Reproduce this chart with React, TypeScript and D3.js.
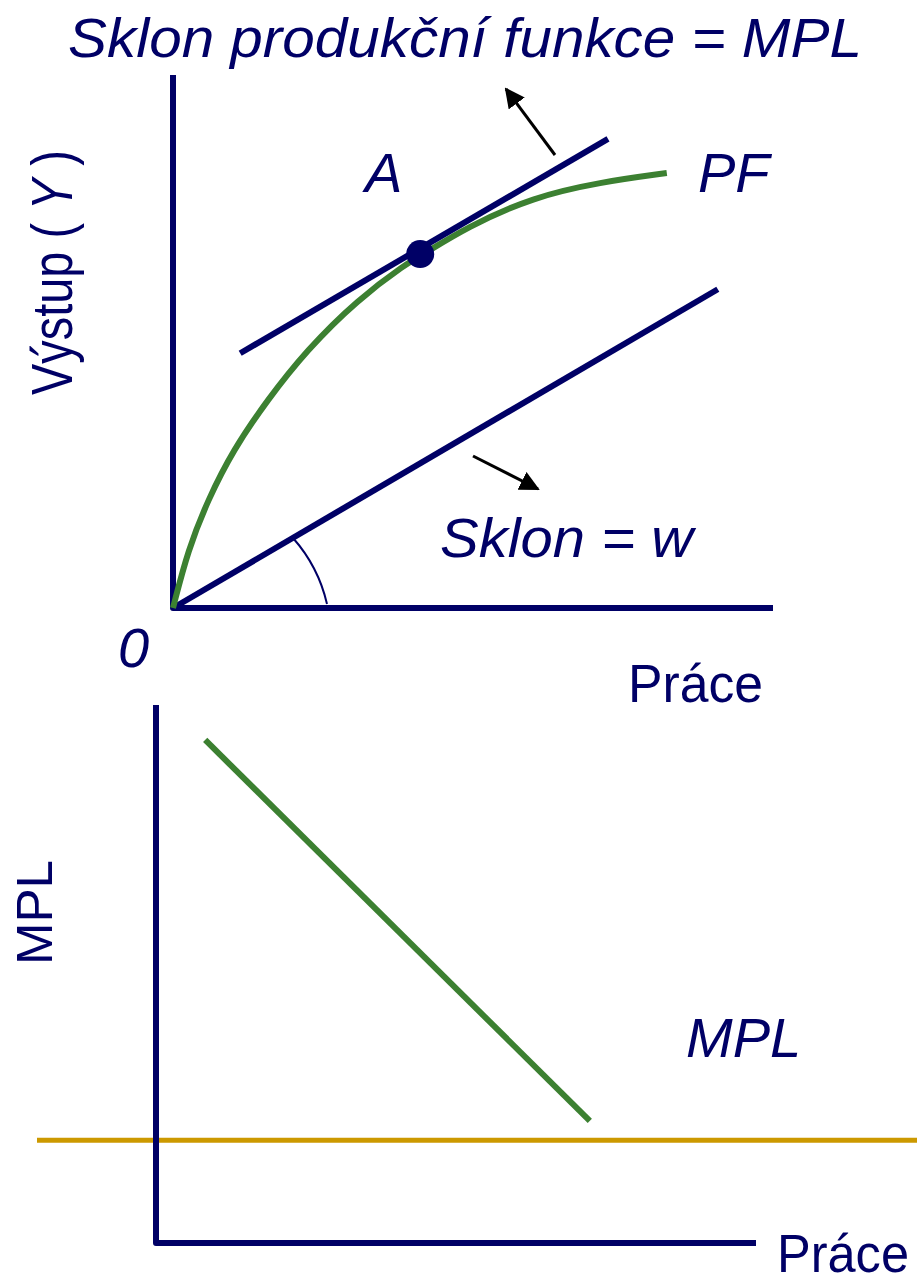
import React from "react";
import * as d3 from "d3";

// ---- data (abstract units: labour 0..100, output 0..100) ----
const pfLabour = [0, 2.5, 5.83, 10, 15.7, 22.3, 30.7, 39, 41.2, 49, 60, 71.2, 82.3];
const pfOutput = [0, 10.9, 20.3, 29.6, 39.0, 48.4, 57.8, 64.7, 66.0, 71.5, 77.1, 79.9, 81.6];
const tangentLabour = [11.2, 72.5];
const tangentOutput = [47.8, 88.0];
const wageLabour = [0, 90.8];
const wageOutput = [0, 59.8];
const pointA = [41.2, 66.4];
const mplLabour = [8.2, 72.3];
const mplValue = [93.5, 22.7];
const wageLevel = 19.1;

const NAVY = "#000066";
const GREEN = "#3C8031";
const ORANGE = "#CC9900";
const FONT = "'Liberation Sans', Arial, sans-serif";

export default function App() {
  // top chart scales
  const x = d3.scaleLinear().domain([0, 100]).range([173, 773]);
  const y = d3.scaleLinear().domain([0, 100]).range([608, 75]);
  // bottom chart scales
  const x2 = d3.scaleLinear().domain([0, 100]).range([156, 756]);
  const y2 = d3.scaleLinear().domain([0, 100]).range([1243, 705]);

  const pfData = pfLabour.map((l, i) => [l, pfOutput[i]] as [number, number]);
  const line = d3
    .line<[number, number]>()
    .x((d) => x(d[0]))
    .y((d) => y(d[1]))
    .curve(d3.curveBasis);
  const straight = d3.line<[number, number]>().x((d) => x(d[0])).y((d) => y(d[1]));
  const straight2 = d3.line<[number, number]>().x((d) => x2(d[0])).y((d) => y2(d[1]));

  // angle arc near origin
  const arcStart: [number, number] = [293, 538];
  const arcEnd: [number, number] = [327, 604];

  return (
    <svg width={917} height={1284} style={{ display: "block", position: "absolute", left: 0, top: 0 }}>
      <defs>
        <marker id="ah2" viewBox="0 0 10 10" refX="9" refY="5" markerWidth="20" markerHeight="20" orient="auto" markerUnits="userSpaceOnUse">
          <path d="M0,0 L10,5 L0,10 z" fill="#000" />
        </marker>
      </defs>

      {/* title */}
      <text x={68} y={57} fontFamily={FONT} fontStyle="italic" fontSize={56} fill={NAVY} textLength={794} lengthAdjust="spacingAndGlyphs">
        Sklon produkční funkce = MPL
      </text>

      {/* top axes */}
      <path d={`M${x(0)},${y(100)} L${x(0)},${y(0)} L${x(100)},${y(0)}`} fill="none" stroke={NAVY} strokeWidth={6} strokeLinejoin="round" />

      {/* wage line */}
      <path d={straight(wageLabour.map((l, i) => [l, wageOutput[i]]))!} stroke={NAVY} strokeWidth={6} fill="none" />
      {/* angle arc */}
      <path d={`M${arcStart[0]},${arcStart[1]} A150,150 0 0 1 ${arcEnd[0]},${arcEnd[1]}`} fill="none" stroke={NAVY} strokeWidth={2} />

      {/* PF curve */}
      <path d={line(pfData)!} fill="none" stroke={GREEN} strokeWidth={6} />
      {/* tangent */}
      <path d={straight(tangentLabour.map((l, i) => [l, tangentOutput[i]]))!} stroke={NAVY} strokeWidth={6} fill="none" />
      <circle cx={x(pointA[0])} cy={y(pointA[1])} r={14} fill={NAVY} />

      {/* arrows */}
      <line x1={555} y1={155} x2={506} y2={89} stroke="#000" strokeWidth={3} markerEnd="url(#ah2)" />
      <line x1={473} y1={456} x2={538} y2={489} stroke="#000" strokeWidth={3} markerEnd="url(#ah2)" />

      {/* top labels */}
      <text x={365} y={192} fontFamily={FONT} fontStyle="italic" fontSize={56} fill={NAVY}>A</text>
      <text x={698} y={192} fontFamily={FONT} fontStyle="italic" fontSize={56} fill={NAVY}>PF</text>
      <text x={440} y={557} fontFamily={FONT} fontStyle="italic" fontSize={56} fill={NAVY} textLength={253} lengthAdjust="spacingAndGlyphs">Sklon = w</text>
      <text x={118} y={667} fontFamily={FONT} fontStyle="italic" fontSize={56} fill={NAVY}>0</text>
      <text x={628} y={702} fontFamily={FONT} fontSize={54} fill={NAVY} textLength={135} lengthAdjust="spacingAndGlyphs">Práce</text>
      <text transform="translate(72,395) rotate(-90)" fontFamily={FONT} fontSize={57} fill={NAVY} textLength={245} lengthAdjust="spacingAndGlyphs">
        Výstup ( <tspan fontStyle="italic">Y</tspan> )
      </text>

      {/* bottom chart */}
      <line x1={37} x2={917} y1={y2(wageLevel)} y2={y2(wageLevel)} stroke={ORANGE} strokeWidth={5} />
      <path d={`M${x2(0)},${y2(100)} L${x2(0)},${y2(0)} L${x2(100)},${y2(0)}`} fill="none" stroke={NAVY} strokeWidth={6} strokeLinejoin="round" />
      <path d={straight2(mplLabour.map((l, i) => [l, mplValue[i]]))!} stroke={GREEN} strokeWidth={6} fill="none" />
      <text x={686} y={1057} fontFamily={FONT} fontStyle="italic" fontSize={56} fill={NAVY}>MPL</text>
      <text x={777} y={1272} fontFamily={FONT} fontSize={54} fill={NAVY} textLength={132} lengthAdjust="spacingAndGlyphs">Práce</text>
      <text transform="translate(52,965) rotate(-90)" fontFamily={FONT} fontSize={50} fill={NAVY} textLength={105} lengthAdjust="spacingAndGlyphs">MPL</text>
    </svg>
  );
}
